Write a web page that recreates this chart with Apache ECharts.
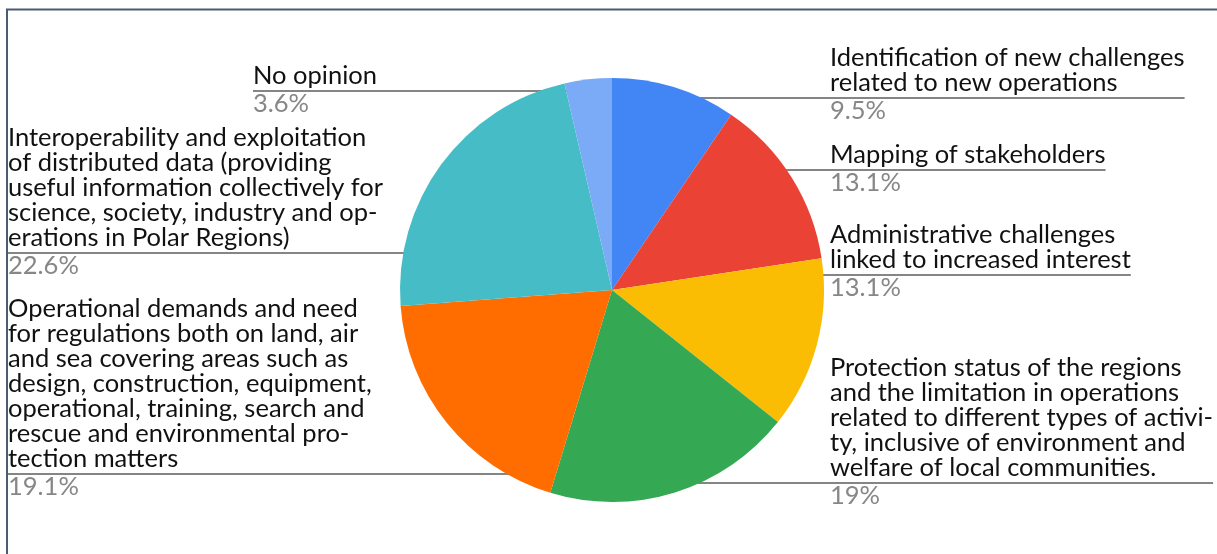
<!DOCTYPE html>
<html>
<head>
<meta charset="utf-8">
<style>
  html, body { margin: 0; padding: 0; background: #fff; }
  #chart { width: 1217px; height: 554px; }
</style>
<script src="https://cdn.jsdelivr.net/npm/echarts@6/dist/echarts.min.js"></script>
</head>
<body>
<div id="chart"></div>
<script>
const categories = [
  'Identification of new challenges\nrelated to new operations',
  'Mapping of stakeholders',
  'Administrative challenges\nlinked to increased interest',
  'Protection status of the regions\nand the limitation in operations\nrelated to different types of activi-\nty, inclusive of environment and\nwelfare of local communities.',
  'Operational demands and need\nfor regulations both on land, air\nand sea covering areas such as\ndesign, construction, equipment,\noperational, training, search and\nrescue and environmental pro-\ntection matters',
  'Interoperability and exploitation\nof distributed data (providing\nuseful information collectively for\nscience, society, industry and op-\nerations in Polar Regions)',
  'No opinion'
]
const shares = [9.5, 13.1, 13.1, 19, 19.1, 22.6, 3.6]
const shareLabels = ['9.5%', '13.1%', '13.1%', '19%', '19.1%', '22.6%', '3.6%']

// google-sheets palette
const sliceColors = ['#4285F4', '#EA4335', '#FBBC04', '#34A853', '#FF6D01', '#46BDC6', '#7BAAF7']

// where each label's text starts (left x) and where its leader line sits (y)
const labelAnchors = [
  [830, 98], [830, 170], [830, 275], [830, 483],
  [8, 474], [8, 253], [253, 91]
]

const cx = 612
const cy = 290
const radius = 212
const lineH = 25
const fontFamily = 'Lato, "Open Sans", sans-serif'

const chart = echarts.init(document.getElementById('chart'))

chart.setOption({
  backgroundColor: '#fff',
  animation: false,
  graphic: [
    {
      type: 'polyline',
      shape: { points: [[7, 554], [7, 9.5], [1217, 9.5]] },
      style: { stroke: '#4b5b72', lineWidth: 2, fill: null }
    }
  ],
  series: [
    {
      type: 'pie',
      center: [cx, cy],
      radius: radius,
      startAngle: 90,
      clockwise: true,
      avoidLabelOverlap: false,
      itemStyle: { borderWidth: 0 },
      label: {
        show: true,
        formatter: p => `{name|${p.name}}\n{pct|${shareLabels[p.dataIndex]}}`,
        rich: {
          name: { fontFamily, fontSize: 25.5, lineHeight: lineH, color: '#111' },
          pct: { fontFamily, fontSize: 25.5, lineHeight: 32, color: '#878787' }
        }
      },
      labelLine: {
        show: true,
        lineStyle: { color: '#858585', width: 2 }
      },
      labelLayout: params => {
        const i = params.dataIndex
        const [lx, ly] = labelAnchors[i]
        const nLines = categories[i].split('\n').length
        const rIn = radius * 0.95
        const dy = ly - cy
        const dx = Math.sqrt(Math.max(rIn * rIn - dy * dy, 0))
        const rightSide = lx > cx
        const startX = rightSide ? cx + dx : cx - dx
        const endX = rightSide ? lx + params.labelRect.width : lx
        return {
          x: lx,
          y: ly - nLines * lineH - 3,
          align: 'left',
          verticalAlign: 'top',
          labelLinePoints: [[startX, ly], [(startX + endX) / 2, ly], [endX, ly]]
        }
      },
      data: categories.map((name, i) => ({
        name,
        value: shares[i],
        itemStyle: { color: sliceColors[i] }
      }))
    }
  ]
})
</script>
</body>
</html>
